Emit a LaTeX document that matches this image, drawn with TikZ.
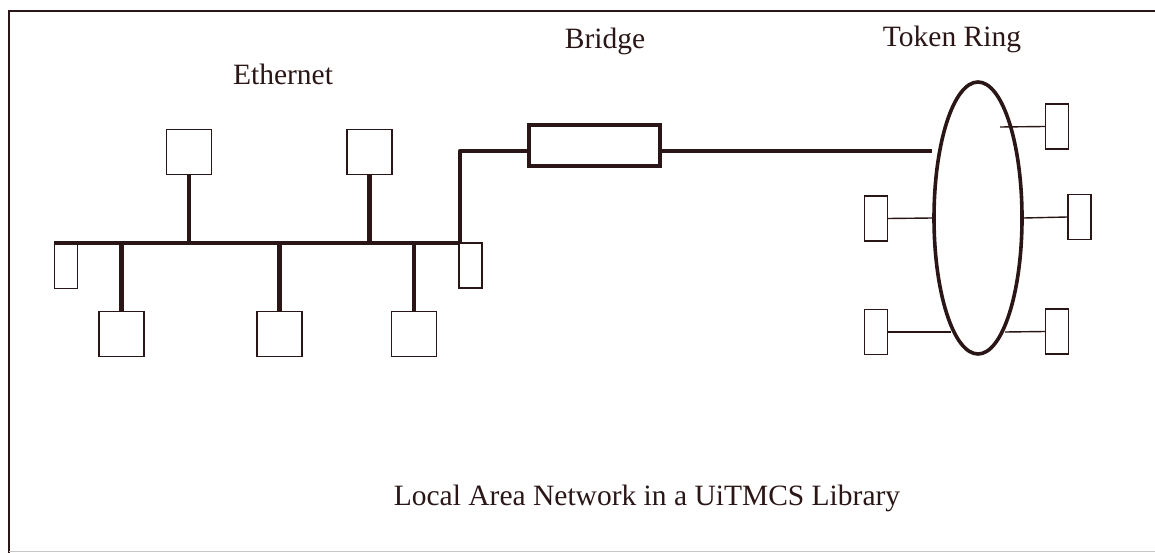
\documentclass[tikz,border=0pt]{standalone}
\usepackage{fontspec}
\setmainfont{Liberation Serif}
\usetikzlibrary{shapes.geometric}
\definecolor{ink}{RGB}{42,22,22}
\begin{document}
\begin{tikzpicture}[x=1pt,y=-1pt,
  station/.style={draw=ink,line width=1.4pt,fill=white,inner sep=0pt,minimum width=45pt,minimum height=45pt},
  tapbox/.style={draw=ink,line width=1.4pt,fill=white,inner sep=0pt,minimum width=23pt,minimum height=45pt},
  cable/.style={draw=ink,line width=4.2pt,line join=round},
  drop/.style={draw=ink,line width=1.4pt},
  frame/.style={draw=ink,line width=1.3pt},
  lbl/.style={font=\fontsize{29.5}{32}\selectfont,text=ink,anchor=base,inner sep=0pt}]
\useasboundingbox (0,0) rectangle (1155,553);
% frame
\coordinate (fTL) at (9,11);
\coordinate (fTR) at (1155,11);
\coordinate (fBL) at (9,553);
\draw[frame] (fTR) -- (fTL) -- (fBL);
\draw[draw=ink!25,line width=1pt] (9,551.5) -- (1155,551.5);
% labels
\node[lbl] (eth) at (283,85) {Ethernet};
\node[lbl] (brl) at (605,49) {Bridge};
\node[lbl] (trl) at (952,47) {Token Ring};
\node[lbl] (cap) at (647,505) {Local Area Network in a UiTMCS Library};
% ethernet bus
\coordinate (busL) at (54,243);
\coordinate (busR) at (460,243);
\coordinate (jb) at (460,151);
\node[station] (t1) at (189,152) {};
\node[station] (t2) at (369.5,152) {};
\node[station] (b1) at (121.5,334) {};
\node[station] (b2) at (279.5,334) {};
\node[station] (b3) at (414,334) {};
\node[tapbox] (s1) at (66,266) {};
\node[tapbox] (s2) at (470.5,265.5) {};
\draw[cable] (busL) -- (busR);
\draw[cable] (t1.south) -- (t1.south |- busL);
\draw[cable] (t2.south) -- (t2.south |- busL);
\draw[cable] (b1.north) -- (b1.north |- busL);
\draw[cable] (b2.north) -- (b2.north |- busL);
\draw[cable] (b3.north) -- (b3.north |- busL);
% bridge
\node[draw=ink,line width=3.6pt,inner sep=0pt,minimum width=131pt,minimum height=41pt] (bridge) at (594.5,145.5) {};
\draw[cable] (busR) -- (jb) -- (jb -| bridge.west);
% token ring
\node[draw=ink,ellipse,line width=3.6pt,inner sep=0pt,minimum width=88pt,minimum height=272pt] (ring) at (978,218) {};
\draw[cable] (jb -| bridge.east) -- (jb -| ring.west);
\node[tapbox] (r1) at (1057,126.5) {};
\node[tapbox] (r2) at (876,218.5) {};
\node[tapbox] (r3) at (1079.5,217) {};
\node[tapbox] (r4) at (876,332) {};
\node[tapbox] (r5) at (1057,331.5) {};
\coordinate (e1) at (1000,127);
\coordinate (e4) at (951,332);
\coordinate (e5) at (1005,332);
\draw[drop] (e1) -- (r1.west);
\draw[drop] (r2.east) -- (ring.west);
\draw[drop] (ring.east) -- (r3.west);
\draw[drop] (r4.east) -- (e4);
\draw[drop] (e5) -- (r5.west);
\end{tikzpicture}
\end{document}
